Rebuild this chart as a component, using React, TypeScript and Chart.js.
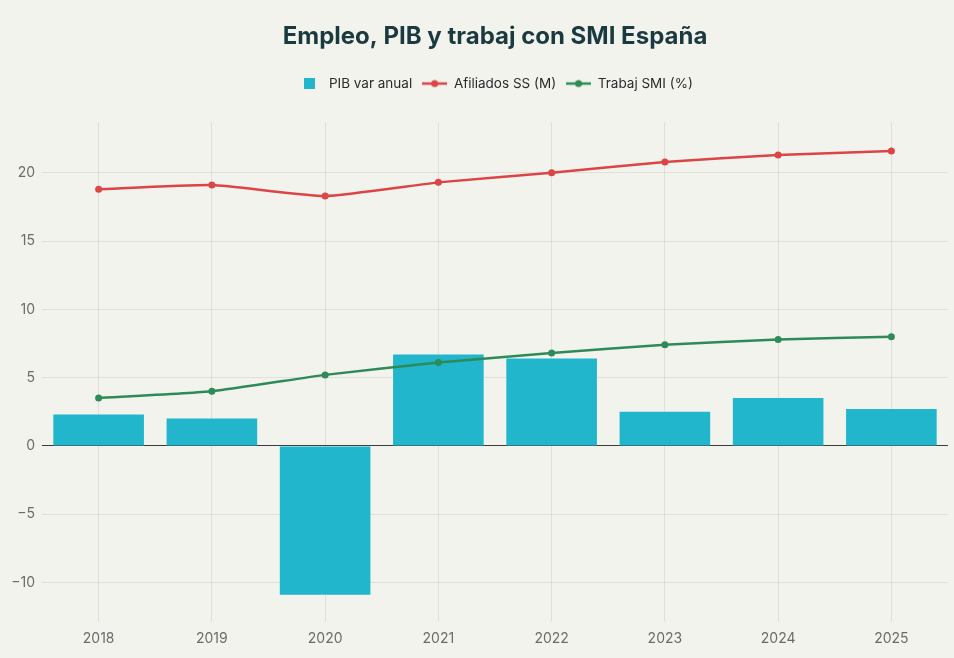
import React, { useEffect, useRef } from 'react';
import { Chart, registerables } from 'chart.js';

Chart.register(...registerables);

// data
const years = ['2018', '2019', '2020', '2021', '2022', '2023', '2024', '2025'];
const pibVarAnual = [2.3, 2.0, -10.9, 6.7, 6.4, 2.5, 3.5, 2.7];
const afiliadosSS = [18.8, 19.1, 18.3, 19.3, 20.0, 20.8, 21.3, 21.6];
const trabajSMI = [3.5, 4.0, 5.2, 6.1, 6.8, 7.4, 7.8, 8.0];
const yTicks = [-10, -5, 0, 5, 10, 15, 20];

const BG = '#F3F3EE';
const CYAN = '#21B6CC';
const RED = '#DB4545';
const GREEN = '#2E8B57';
const FONT = 'Inter, "Liberation Sans", sans-serif';

// small marker images for the legend (plotly-like swatches)
const makeSquare = (color: string) => {
    const c = document.createElement('canvas');
    c.width = 11;
    c.height = 11;
    const g = c.getContext('2d')!;
    g.fillStyle = color;
    g.fillRect(0, 0, 11, 11);
    return c;
};

const makeLine = (color: string) => {
    const c = document.createElement('canvas');
    c.width = 25;
    c.height = 10;
    const g = c.getContext('2d')!;
    g.strokeStyle = color;
    g.lineWidth = 2.5;
    g.beginPath();
    g.moveTo(0, 5);
    g.lineTo(25, 5);
    g.stroke();
    g.fillStyle = color;
    g.beginPath();
    g.arc(12.5, 5, 3.5, 0, Math.PI * 2);
    g.fill();
    return c;
};

// leave some room under the legend
const legendGap = {
    id: 'legendGap',
    beforeInit(chart: any) {
        const fit = chart.legend.fit;
        chart.legend.fit = function () {
            fit.call(this);
            this.height += 22;
        };
    }
};

const App = () => {
    const chartRef = useRef<HTMLCanvasElement>(null);
    const chartInstance = useRef<Chart | null>(null);

    useEffect(() => {
        if (!chartRef.current) return;
        const ctx = chartRef.current.getContext('2d');
        if (!ctx) return;
        if (chartInstance.current) chartInstance.current.destroy();

        const swatches = [makeSquare(CYAN), makeLine(RED), makeLine(GREEN)];

        chartInstance.current = new Chart(ctx, {
            type: 'bar',
            data: {
                labels: years,
                datasets: [
                    {
                        type: 'bar',
                        label: 'PIB var anual',
                        data: pibVarAnual,
                        backgroundColor: CYAN,
                        borderWidth: 0,
                        categoryPercentage: 0.8,
                        barPercentage: 1.0,
                        order: 3
                    },
                    {
                        type: 'line',
                        label: 'Afiliados SS (M)',
                        data: afiliadosSS,
                        borderColor: RED,
                        backgroundColor: RED,
                        borderWidth: 2.5,
                        pointRadius: 3.5,
                        pointBorderWidth: 0,
                        tension: 0.15,
                        order: 2
                    },
                    {
                        type: 'line',
                        label: 'Trabaj SMI (%)',
                        data: trabajSMI,
                        borderColor: GREEN,
                        backgroundColor: GREEN,
                        borderWidth: 2.5,
                        pointRadius: 3.5,
                        pointBorderWidth: 0,
                        tension: 0.15,
                        order: 1
                    }
                ]
            },
            options: {
                responsive: false,
                animation: false,
                layout: {
                    padding: { left: 0, right: 6, top: 0, bottom: 0 }
                },
                plugins: {
                    title: {
                        display: true,
                        fullSize: false,
                        text: 'Empleo, PIB y trabaj con SMI España',
                        color: '#1B3A3F',
                        font: { family: FONT, size: 24, weight: 'bold' },
                        padding: { top: 22, bottom: 16 }
                    },
                    legend: {
                        display: true,
                        fullSize: false,
                        labels: {
                            color: '#2B2B2B',
                            font: { family: FONT, size: 13.5 },
                            usePointStyle: true,
                            pointStyleWidth: 25,
                            boxHeight: 10,
                            padding: 10,
                            generateLabels: (chart) =>
                                chart.data.datasets.map((ds, i) => ({
                                    text: ds.label as string,
                                    pointStyle: swatches[i],
                                    fillStyle: ds.backgroundColor as string,
                                    strokeStyle: ds.backgroundColor as string,
                                    lineWidth: 0,
                                    fontColor: '#2B2B2B',
                                    hidden: false,
                                    datasetIndex: i
                                }))
                        }
                    },
                    tooltip: { enabled: false }
                },
                scales: {
                    x: {
                        offset: true,
                        afterFit: (scale) => {
                            scale.height = 36;
                        },
                        grid: {
                            offset: false,
                            color: 'rgba(0,0,0,0.08)',
                            drawTicks: false
                        },
                        border: { display: false },
                        ticks: {
                            color: '#6B6B6B',
                            padding: 8,
                            font: { family: FONT, size: 14 }
                        }
                    },
                    y: {
                        min: -12.9,
                        max: 23.7,
                        afterBuildTicks: (scale) => {
                            scale.ticks = yTicks.map((v) => ({ value: v }));
                        },
                        afterFit: (scale) => {
                            scale.width = 42;
                        },
                        grid: {
                            color: (c) => (c.tick && c.tick.value === 0 ? '#3C3C3C' : 'rgba(0,0,0,0.08)'),
                            drawTicks: false
                        },
                        border: { display: false },
                        ticks: {
                            color: '#6B6B6B',
                            padding: 7,
                            font: { family: FONT, size: 14 },
                            callback: (v) => String(v).replace('-', '\u2212')
                        }
                    }
                }
            },
            plugins: [legendGap]
        });

        return () => {
            if (chartInstance.current) {
                chartInstance.current.destroy();
                chartInstance.current = null;
            }
        };
    }, []);

    return (
        <div style={{ position: 'fixed', left: 0, top: 0, width: 954, height: 658, background: BG }}>
            <canvas ref={chartRef} width={954} height={658} style={{ display: 'block' }}></canvas>
        </div>
    );
};

export default App;
